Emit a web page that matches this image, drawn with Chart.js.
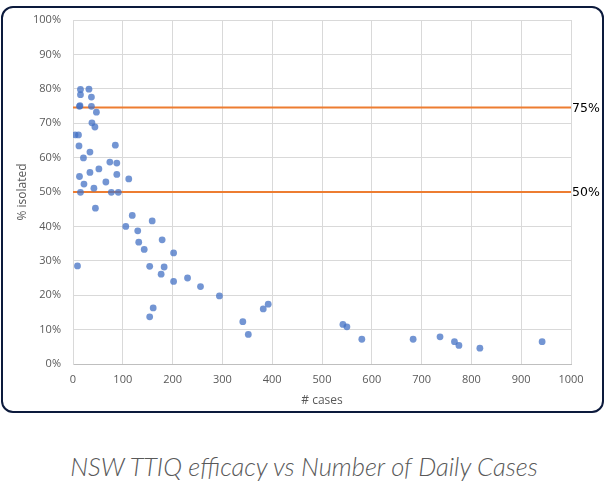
<!DOCTYPE html>
<html>
<head>
<meta charset="utf-8">
<script src="https://cdn.jsdelivr.net/npm/chart.js@4"></script>
<style>
    body { margin: 0; background: #ffffff; }
    #frame {
        position: absolute; left: 1px; top: 6px; width: 603px; height: 407px;
        box-sizing: border-box; border: 2px solid #0c1a3c; border-radius: 12px;
    }
    #wrap { position: absolute; left: 0; top: 0; width: 608px; height: 420px; }
    #caption {
        position: absolute; left: 0; top: 451px; width: 608px; text-align: center;
        font-family: Lato, sans-serif; font-style: italic; font-weight: 300;
        font-size: 25.5px; line-height: 30px; color: #595959;
    }
</style>
</head>
<body>
<div id="frame"></div>
<div id="wrap"><canvas id="chart"></canvas></div>
<div id="caption">NSW TTIQ efficacy vs Number of Daily Cases</div>
<script>
// daily case counts and share isolated (%)
const caseCounts = [15, 32, 15, 37, 13, 14, 37, 47, 38, 44, 4, 11, 12, 85, 34, 21, 74, 88, 52, 34, 88, 13, 112, 66, 22, 42, 15, 77, 91,
    45, 119, 106, 159, 130, 132, 179, 143, 202, 9, 154, 183, 177, 202, 230, 256, 294, 161, 154, 341, 392, 382, 352,
    542, 550, 580, 683, 737, 766, 775, 817, 942];
const isolatedPct = [79.8, 79.9, 78.3, 77.6, 74.9, 75.1, 74.9, 73.2, 70.1, 68.9, 66.6, 66.6, 63.4, 63.6, 61.6, 59.9, 58.7, 58.4, 56.7, 55.7, 55.1, 54.5, 53.8, 52.9, 52.3, 51.1, 49.9, 49.9, 49.9,
    45.3, 43.2, 40.0, 41.6, 38.7, 35.4, 36.1, 33.3, 32.3, 28.5, 28.4, 28.2, 26.1, 24.0, 25.0, 22.5, 19.8, 16.3, 13.7, 12.3, 17.4, 16.0, 8.6,
    11.5, 10.8, 7.2, 7.2, 7.9, 6.5, 5.4, 4.6, 6.5];
const thresholds = [74.6, 50];
const thresholdLabels = ['75%', '50%'];

const points = caseCounts.map((c, i) => ({ x: c, y: isolatedPct[i] }));

const lineSets = thresholds.map((t, i) => ({
    type: 'line',
    label: thresholdLabels[i],
    data: [{ x: 0, y: t }, { x: 1000, y: t }],
    borderColor: '#ed7d31',
    borderWidth: 2,
    pointRadius: 0,
    order: 2
}));

// labels for the threshold lines, right of the plot
const lineLabels = {
    id: 'lineLabels',
    afterDatasetsDraw(chart) {
        const ctx = chart.ctx;
        const y = chart.scales.y;
        ctx.save();
        ctx.font = '12.5px "DejaVu Sans"';
        ctx.fillStyle = '#000000';
        ctx.textBaseline = 'middle';
        thresholds.forEach((t, i) => {
            ctx.fillText(thresholdLabels[i], chart.chartArea.right + 1, y.getPixelForValue(t) + 1);
        });
        ctx.restore();
    }
};

const tickFont = { family: '"Open Sans", sans-serif', size: 11 };

new Chart(document.getElementById('chart').getContext('2d'), {
    type: 'scatter',
    data: {
        datasets: [{
            label: '% isolated',
            data: points,
            backgroundColor: 'rgba(68, 114, 196, 0.75)',
            borderWidth: 0,
            pointRadius: 3.4,
            order: 1
        }, ...lineSets]
    },
    options: {
        responsive: true,
        maintainAspectRatio: false,
        animation: false,
        layout: { padding: { left: 0, top: 20, right: 37, bottom: 0 } },
        plugins: {
            legend: { display: false },
            tooltip: { enabled: false }
        },
        scales: {
            x: {
                type: 'linear',
                min: 0,
                max: 1000,
                afterFit: (scale) => { scale.height = 56; },
                ticks: { stepSize: 100, color: '#595959', font: tickFont, padding: 9, maxRotation: 0, callback: (v) => String(v) },
                grid: { color: '#d9d9d9', drawTicks: false },
                border: { color: '#bfbfbf' },
                title: { display: true, text: '# cases', color: '#595959', font: { family: '"Open Sans", sans-serif', size: 12 }, padding: { top: 4, bottom: 12 } }
            },
            y: {
                min: 0,
                max: 100,
                afterFit: (scale) => { scale.width = 73; },
                ticks: { stepSize: 10, color: '#595959', font: tickFont, padding: 12, callback: (v) => v + '%' },
                grid: { color: '#d9d9d9', drawTicks: false },
                border: { color: '#d9d9d9' },
                title: { display: true, text: '% isolated', color: '#595959', font: { family: '"Open Sans", sans-serif', size: 12 }, padding: { top: 15 } }
            }
        }
    },
    plugins: [lineLabels]
});
</script>
</body>
</html>
